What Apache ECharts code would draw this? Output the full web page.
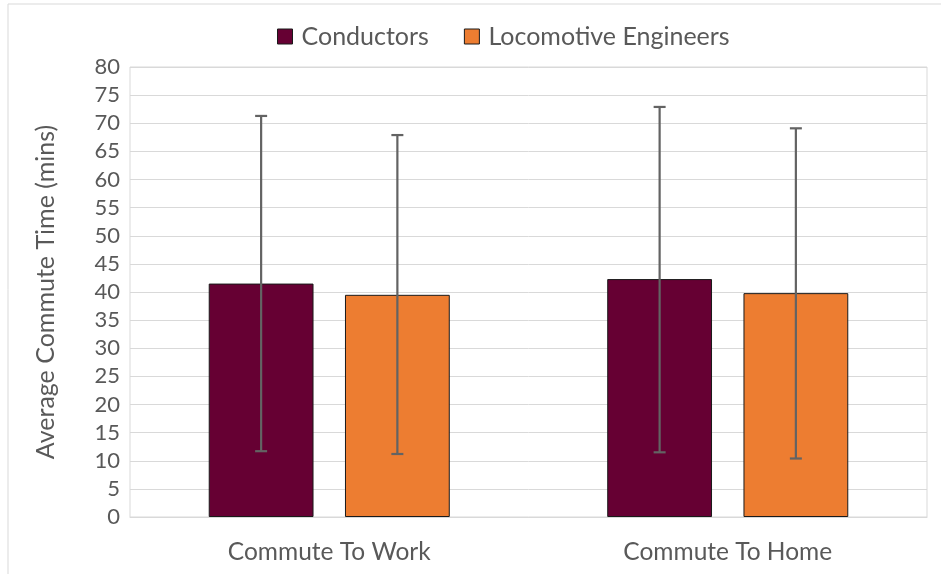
<!DOCTYPE html>
<html>
<head>
<meta charset="utf-8">
<script src="https://cdn.jsdelivr.net/npm/echarts@6/dist/echarts.min.js"></script>
<style>html,body{margin:0;padding:0;background:#fff;}#c{width:941px;height:574px;}</style>
</head>
<body>
<div id="c"></div>
<script>
const categories = ['Commute To Work', 'Commute To Home'];
const conductors = [41.5, 42.3];
const conductorsErrLow = [11.7, 11.5];
const conductorsErrHigh = [71.3, 72.9];
const engineers = [39.5, 39.8];
const engineersErrLow = [11.2, 10.4];
const engineersErrHigh = [67.9, 69.1];
const yTicks = {min: 0, max: 80, interval: 5};

const BAR_W = 0.263, GAP = 0.30;
const font = 'Lato, "Open Sans", sans-serif';

function errSeries(name, low, high, side) {
  return {
    type: 'custom',
    name: name + ' err',
    z: 10,
    data: categories.map((c, i) => [i, low[i], high[i]]),
    encode: {x: 0, y: [1, 2]},
    renderItem: function (params, api) {
      const i = api.value(0);
      const bw = api.size([1, 0])[0];
      const barW = bw * BAR_W;
      const off = side * (barW + barW * GAP) / 2;
      const pLow = api.coord([i, api.value(1)]);
      const pHigh = api.coord([i, api.value(2)]);
      const x = pLow[0] + off;
      const cap = 6;
      const st = {stroke: '#636363', lineWidth: 2.2};
      return {
        type: 'group',
        children: [
          {type: 'line', shape: {x1: x, y1: pLow[1], x2: x, y2: pHigh[1]}, style: st},
          {type: 'line', shape: {x1: x - cap, y1: pLow[1], x2: x + cap, y2: pLow[1]}, style: st},
          {type: 'line', shape: {x1: x - cap, y1: pHigh[1], x2: x + cap, y2: pHigh[1]}, style: st}
        ]
      };
    },
    tooltip: {show: false}
  };
}

const chart = echarts.init(document.getElementById('c'), null, {renderer: 'canvas'});
chart.setOption({
  animation: false,
  backgroundColor: '#fff',
  graphic: [{
    type: 'rect', shape: {x: 8, y: 4, width: 960, height: 600},
    style: {fill: 'none', stroke: '#d9d9d9', lineWidth: 1}, silent: true, z: -1
  }],
  legend: {
    top: 19, left: 272,
    icon: 'rect',
    itemWidth: 15, itemHeight: 15, itemGap: 35,
    data: [
      {name: 'Conductors', itemStyle: {borderColor: '#1a1a1a', borderWidth: 1}},
      {name: 'Locomotive Engineers', itemStyle: {borderColor: '#1a1a1a', borderWidth: 1}}
    ],
    textStyle: {fontFamily: font, fontSize: 25, color: '#595959', padding: [0, 0, 0, 4]}
  },
  grid: {left: 130, right: 14, top: 67, bottom: 57, show: true, borderColor: '#d9d9d9', borderWidth: 1},
  xAxis: {
    type: 'category', data: categories,
    axisLine: {lineStyle: {color: '#d9d9d9'}},
    axisTick: {show: false},
    axisLabel: {fontFamily: font, fontSize: 24.5, color: '#595959', margin: 23}
  },
  yAxis: {
    type: 'value', min: yTicks.min, max: yTicks.max, interval: yTicks.interval,
    name: 'Average Commute Time (mins)', nameLocation: 'middle', nameGap: 72,
    nameTextStyle: {fontFamily: font, fontSize: 25, color: '#595959'},
    axisLabel: {fontFamily: font, fontSize: 22, color: '#595959', margin: 10},
    splitLine: {lineStyle: {color: '#d9d9d9'}},
    axisLine: {show: false}, axisTick: {show: false}
  },
  series: [
    {name: 'Conductors', type: 'bar', data: conductors, barWidth: (BAR_W * 100) + '%', barGap: (GAP * 100) + '%',
     itemStyle: {color: '#660033', borderColor: '#1a1a1a', borderWidth: 1}},
    {name: 'Locomotive Engineers', type: 'bar', data: engineers, barWidth: (BAR_W * 100) + '%', barGap: (GAP * 100) + '%',
     itemStyle: {color: '#ED7D31', borderColor: '#1a1a1a', borderWidth: 1}},
    errSeries('Conductors', conductorsErrLow, conductorsErrHigh, -1),
    errSeries('Locomotive Engineers', engineersErrLow, engineersErrHigh, 1)
  ]
});
</script>
</body>
</html>
